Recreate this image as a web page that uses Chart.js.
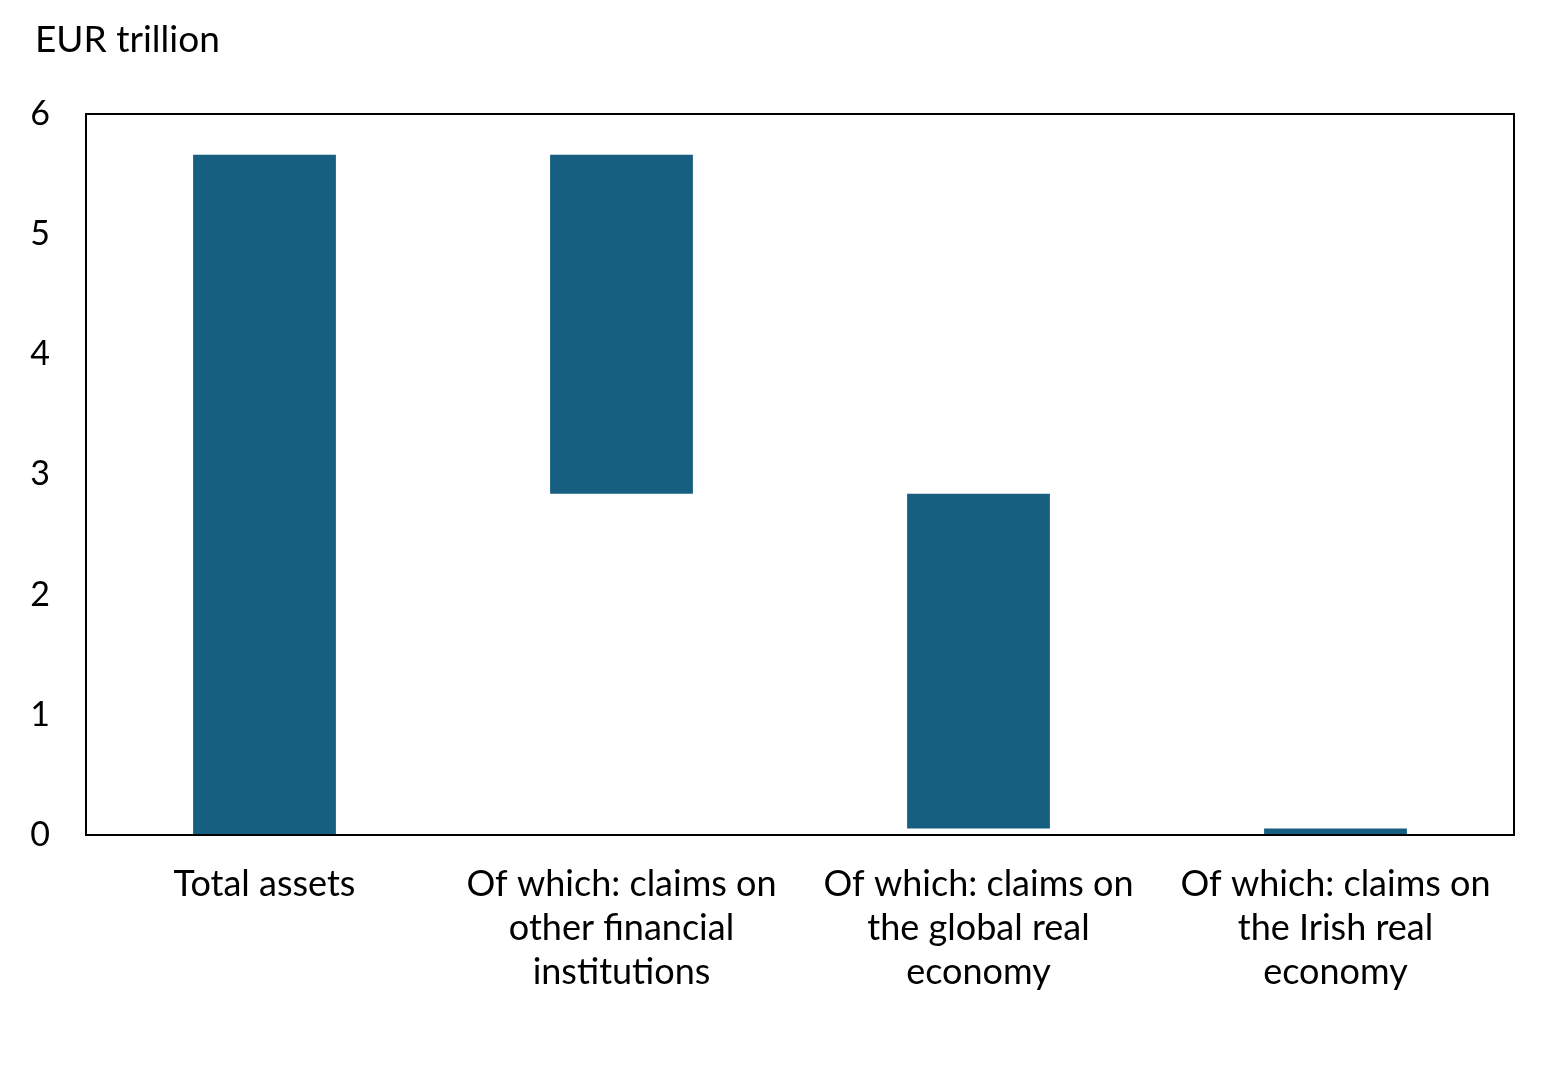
<!DOCTYPE html>
<html><head><meta charset="utf-8">
<script src="https://cdn.jsdelivr.net/npm/chart.js@4/dist/chart.umd.min.js"></script>
<style>html,body{margin:0;padding:0;background:#fff}#wrap{width:1565px;height:1073px}</style>
</head><body><div id="wrap"><canvas id="c" width="1565" height="1073"></canvas></div>
<script>
const categories = [
  ["Total assets"],
  ["Of which: claims on", "other financial", "institutions"],
  ["Of which: claims on", "the global real", "economy"],
  ["Of which: claims on", "the Irish real", "economy"]
];
const barLows  = [0, 2.84, 0.055, 0];
const barHighs = [5.66, 5.66, 2.84, 0.055];
const yTicks = [0, 1, 2, 3, 4, 5, 6];
const yTitle = "EUR trillion";

const floating = barLows.map((lo, i) => [lo, barHighs[i]]);
const FONT = "Lato, 'Open Sans', sans-serif";

const boxPlugin = {
  id: 'box',
  afterDatasetsDraw(chart) {
    const a = chart.chartArea, ctx = chart.ctx;
    ctx.save();
    ctx.strokeStyle = '#000';
    ctx.lineWidth = 2;
    ctx.strokeRect(a.left, a.top, a.right - a.left, a.bottom - a.top);
    ctx.restore();
  }
};
const unitTitlePlugin = {
  id: 'unitTitle',
  afterDraw(chart) {
    const ctx = chart.ctx;
    ctx.save();
    ctx.fillStyle = '#000';
    ctx.font = "37px " + FONT;
    ctx.textAlign = 'left';
    ctx.textBaseline = 'middle';
    ctx.fillText(yTitle, 35, 40.5);
    ctx.restore();
  }
};

new Chart(document.getElementById('c'), {
  type: 'bar',
  data: {
    labels: categories,
    datasets: [{ data: floating, backgroundColor: '#175f80', borderWidth: 0,
      barPercentage: 0.4, categoryPercentage: 1.0 }]
  },
  options: {
    responsive: false,
    animation: false,
    layout: { padding: { left: 0, right: 51, top: 114, bottom: 0 } },
    plugins: {
      legend: { display: false },
      tooltip: { enabled: false },
      title: { display: false }
    },
    scales: {
      x: {
        grid: { display: false, drawTicks: false },
        border: { display: false },
        ticks: { color: '#000', font: { family: FONT, size: 36, lineHeight: 1.225 }, padding: 27, maxRotation: 0, autoSkip: false },
        afterFit(s) { s.height = 238; }
      },
      y: {
        min: 0, max: 6,
        afterBuildTicks(s) { s.ticks = yTicks.map(v => ({ value: v })); },
        grid: { display: false, drawTicks: false },
        border: { display: false },
        ticks: { color: '#000', font: { family: FONT, size: 34 }, padding: 36 },
        afterFit(s) { s.width = 86; }
      }
    }
  },
  plugins: [boxPlugin, unitTitlePlugin]
});
</script></body></html>
